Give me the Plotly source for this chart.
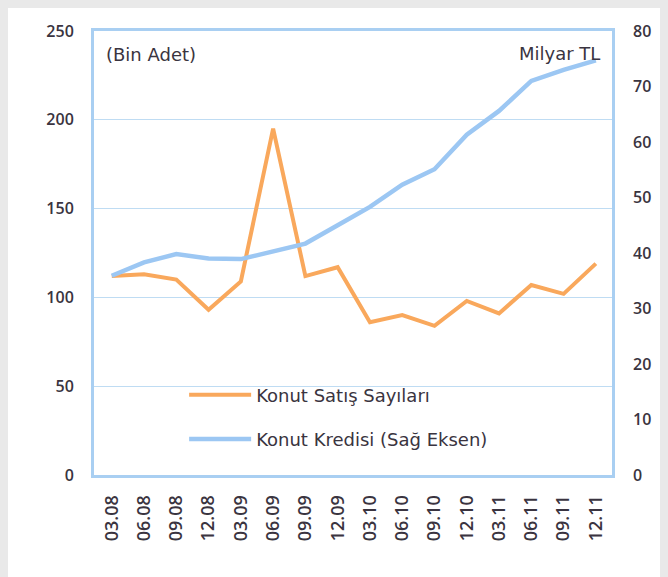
import plotly.graph_objects as go

categories = ["03.08", "06.08", "09.08", "12.08", "03.09", "06.09", "09.09", "12.09",
              "03.10", "06.10", "09.10", "12.10", "03.11", "06.11", "09.11", "12.11"]
satis = [112, 113, 110, 93, 109, 195, 112, 117, 86, 90, 84, 98, 91, 107, 102, 119]
kredi = [35.9, 38.3, 39.8, 39.0, 38.9, 40.4, 41.7, 45.0, 48.3, 52.3, 55.1, 61.3, 65.6, 71.0, 73.0, 74.7]
left_ticks = [0, 50, 100, 150, 200, 250]
right_ticks = [0, 10, 20, 30, 40, 50, 60, 70, 80]

ORANGE = "#f9a85c"
BLUE = "#9cc7f3"
FRAME = "#a9cff2"
GRID = "#bfdcf3"
TXT = "#3a3440"
FONT = "Open Sans, Lato, sans-serif"
TFONT = "DejaVu Sans, Open Sans, sans-serif"

fig = go.Figure()
fig.add_trace(go.Scatter(x=categories, y=kredi, name="Konut Kredisi (Sağ Eksen)", yaxis="y2",
                         mode="lines", line=dict(color=BLUE, width=4.5), legendgroup="b",
                         legendrank=2))
fig.add_trace(go.Scatter(x=categories, y=satis, name="Konut Satış Sayıları", yaxis="y",
                         mode="lines", line=dict(color=ORANGE, width=4), legendgroup="a",
                         legendrank=1))

tickfont = dict(size=16, color=TXT, family=FONT, weight=600)

fig.update_layout(
    width=668, height=577,
    margin=dict(l=86, r=64, t=23, b=110),
    paper_bgcolor="white",
    plot_bgcolor="white",
    font=dict(family=FONT, color=TXT, size=16),
    showlegend=True,
    legend=dict(x=0.174, y=0.222, xanchor="left", yanchor="top", bgcolor="rgba(0,0,0,0)",
                font=dict(size=18, color=TXT, family=TFONT), traceorder="grouped",
                tracegroupgap=18, itemwidth=62),
    xaxis=dict(type="category", tickangle=-90, showgrid=False, showline=True, mirror=True,
               linecolor=FRAME, linewidth=3, ticks="", ticklabelstandoff=10,
               tickfont=dict(size=18, color=TXT, family=FONT, weight=600),
               range=[-0.55, 15.5]),
    yaxis=dict(range=[0, 250], tickvals=left_ticks, showgrid=True, gridcolor=GRID, gridwidth=1,
               showline=True, mirror=True, linecolor=FRAME, linewidth=3, zeroline=False,
               ticks="", ticklabelstandoff=14, tickfont=tickfont),
    yaxis2=dict(range=[0, 80], tickvals=right_ticks, overlaying="y", side="right", showgrid=False,
                zeroline=False, showline=False, ticks="", ticklabelstandoff=20, tickfont=tickfont),
    annotations=[
        dict(text="(Bin Adet)", xref="paper", yref="paper", x=0.019, y=0.946, xanchor="left",
             yanchor="middle", showarrow=False, font=dict(size=18, color=TXT, family=TFONT)),
        dict(text="Milyar TL", xref="paper", yref="paper", x=0.98, y=0.95, xanchor="right",
             yanchor="middle", showarrow=False, font=dict(size=18, color=TXT, family=TFONT)),
    ],
)

fig.write_html("out.html", post_script="document.body.style.background='#e9e9e9';")
